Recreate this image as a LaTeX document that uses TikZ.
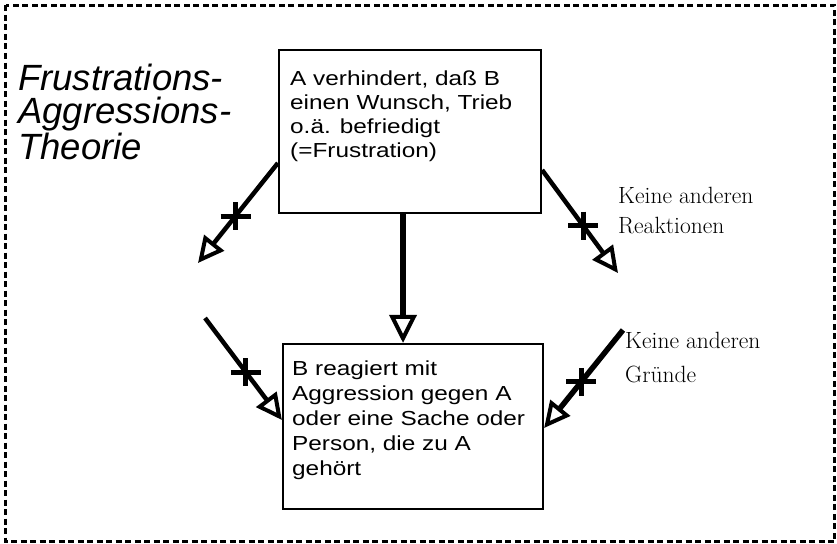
\documentclass[tikz,border=0pt]{standalone}
\usepackage{fontspec}
\newfontfamily\boxfont[FakeStretch=1.2]{Liberation Sans}
\newfontfamily\titlefont{Liberation Sans}
\usetikzlibrary{arrows.meta,calc}
\tikzset{
  frame/.style={draw, line width=2.4pt, dash pattern=on 6pt off 3.5pt},
  box/.style={draw, line width=2.2pt, rectangle, inner sep=0pt},
  boxtext/.style={inner sep=0pt, align=left, anchor=base west},
  titletext/.style={inner sep=0pt, align=left, anchor=base west, font=\fontsize{36.5}{33.5}\titlefont\itshape},
  notetext/.style={inner sep=0pt, align=left, anchor=base west},
  diag/.style={line width=4.5pt, -{Triangle[open, length=26pt, width=25pt, line width=4pt]}},
  mainarrow/.style={line width=5.5pt, -{Triangle[open, length=28pt, width=27pt, line width=4pt]}},
  crossbar/.style={line width=5pt},
  pics/crossmark/.style={code={
    \draw[crossbar] (-15,0) -- (15,0);
    \draw[crossbar] (0,-14) -- (0,14);
  }}
}
\begin{document}
\begin{tikzpicture}[x=1pt,y=-1pt]
\useasboundingbox (0,0) rectangle (837,543);
\draw[frame] (5.5,5.5) rectangle (834.5,541.5);

\node[titletext] (title) at (18,159) {Frustrations-\\Aggressions-\\Theorie};

\node[box, minimum width=262pt, minimum height=163pt] (top) at (410,131.5) {};
\node[boxtext, font=\fontsize{20.3}{24}\boxfont] (toptext) at (290,157.3)
  {A verhindert, daß B\\einen Wunsch, Trieb\\o.ä. befriedigt\\(=Frustration)};

\node[box, minimum width=260pt, minimum height=165pt] (bot) at (413,426.5) {};
\node[boxtext, font=\fontsize{20.3}{25}\boxfont] (bottext) at (292,475.5)
  {B reagiert mit\\Aggression gegen A\\oder eine Sache oder\\Person, die zu A\\gehört};

\node[notetext, font=\fontsize{23.5}{30}\selectfont] (reak) at (618,233) {Keine anderen\\Reaktionen};
\node[notetext, font=\fontsize{23.5}{34}\selectfont] (gruende) at (625,382) {Keine anderen\\Gründe};

% main arrow
\draw[mainarrow] ([xshift=-7pt]top.south) -- ([xshift=-10pt]bot.north);

% diagonal arrows
\coordinate (a1s) at ([yshift=-31.5pt]top.west);
\coordinate (a1e) at (198,263);
\coordinate (a2s) at ([yshift=-38.5pt]top.east);
\coordinate (a2e) at (618,273);
\coordinate (a3s) at (205,318);
\coordinate (a3e) at ([yshift=6.5pt]bot.west);
\coordinate (a4s) at (623,330);
\coordinate (a4e) at ([yshift=-1.5pt]bot.east);

\draw[diag] (a1s) -- (a1e);
\draw[diag] (a2s) -- (a2e);
\draw[diag] (a3s) -- (a3e);
\draw[diag, line width=5.5pt] (a4s) -- (a4e);

\pic at ($(a1s)!0.53!(a1e)$) {crossmark};
\pic at ($(a2s)!0.54!(a2e)$) {crossmark};
\pic at ($(a3s)!0.53!(a3e)$) {crossmark};
\pic at ($(a4s)!0.53!(a4e)$) {crossmark};
\end{tikzpicture}
\end{document}
